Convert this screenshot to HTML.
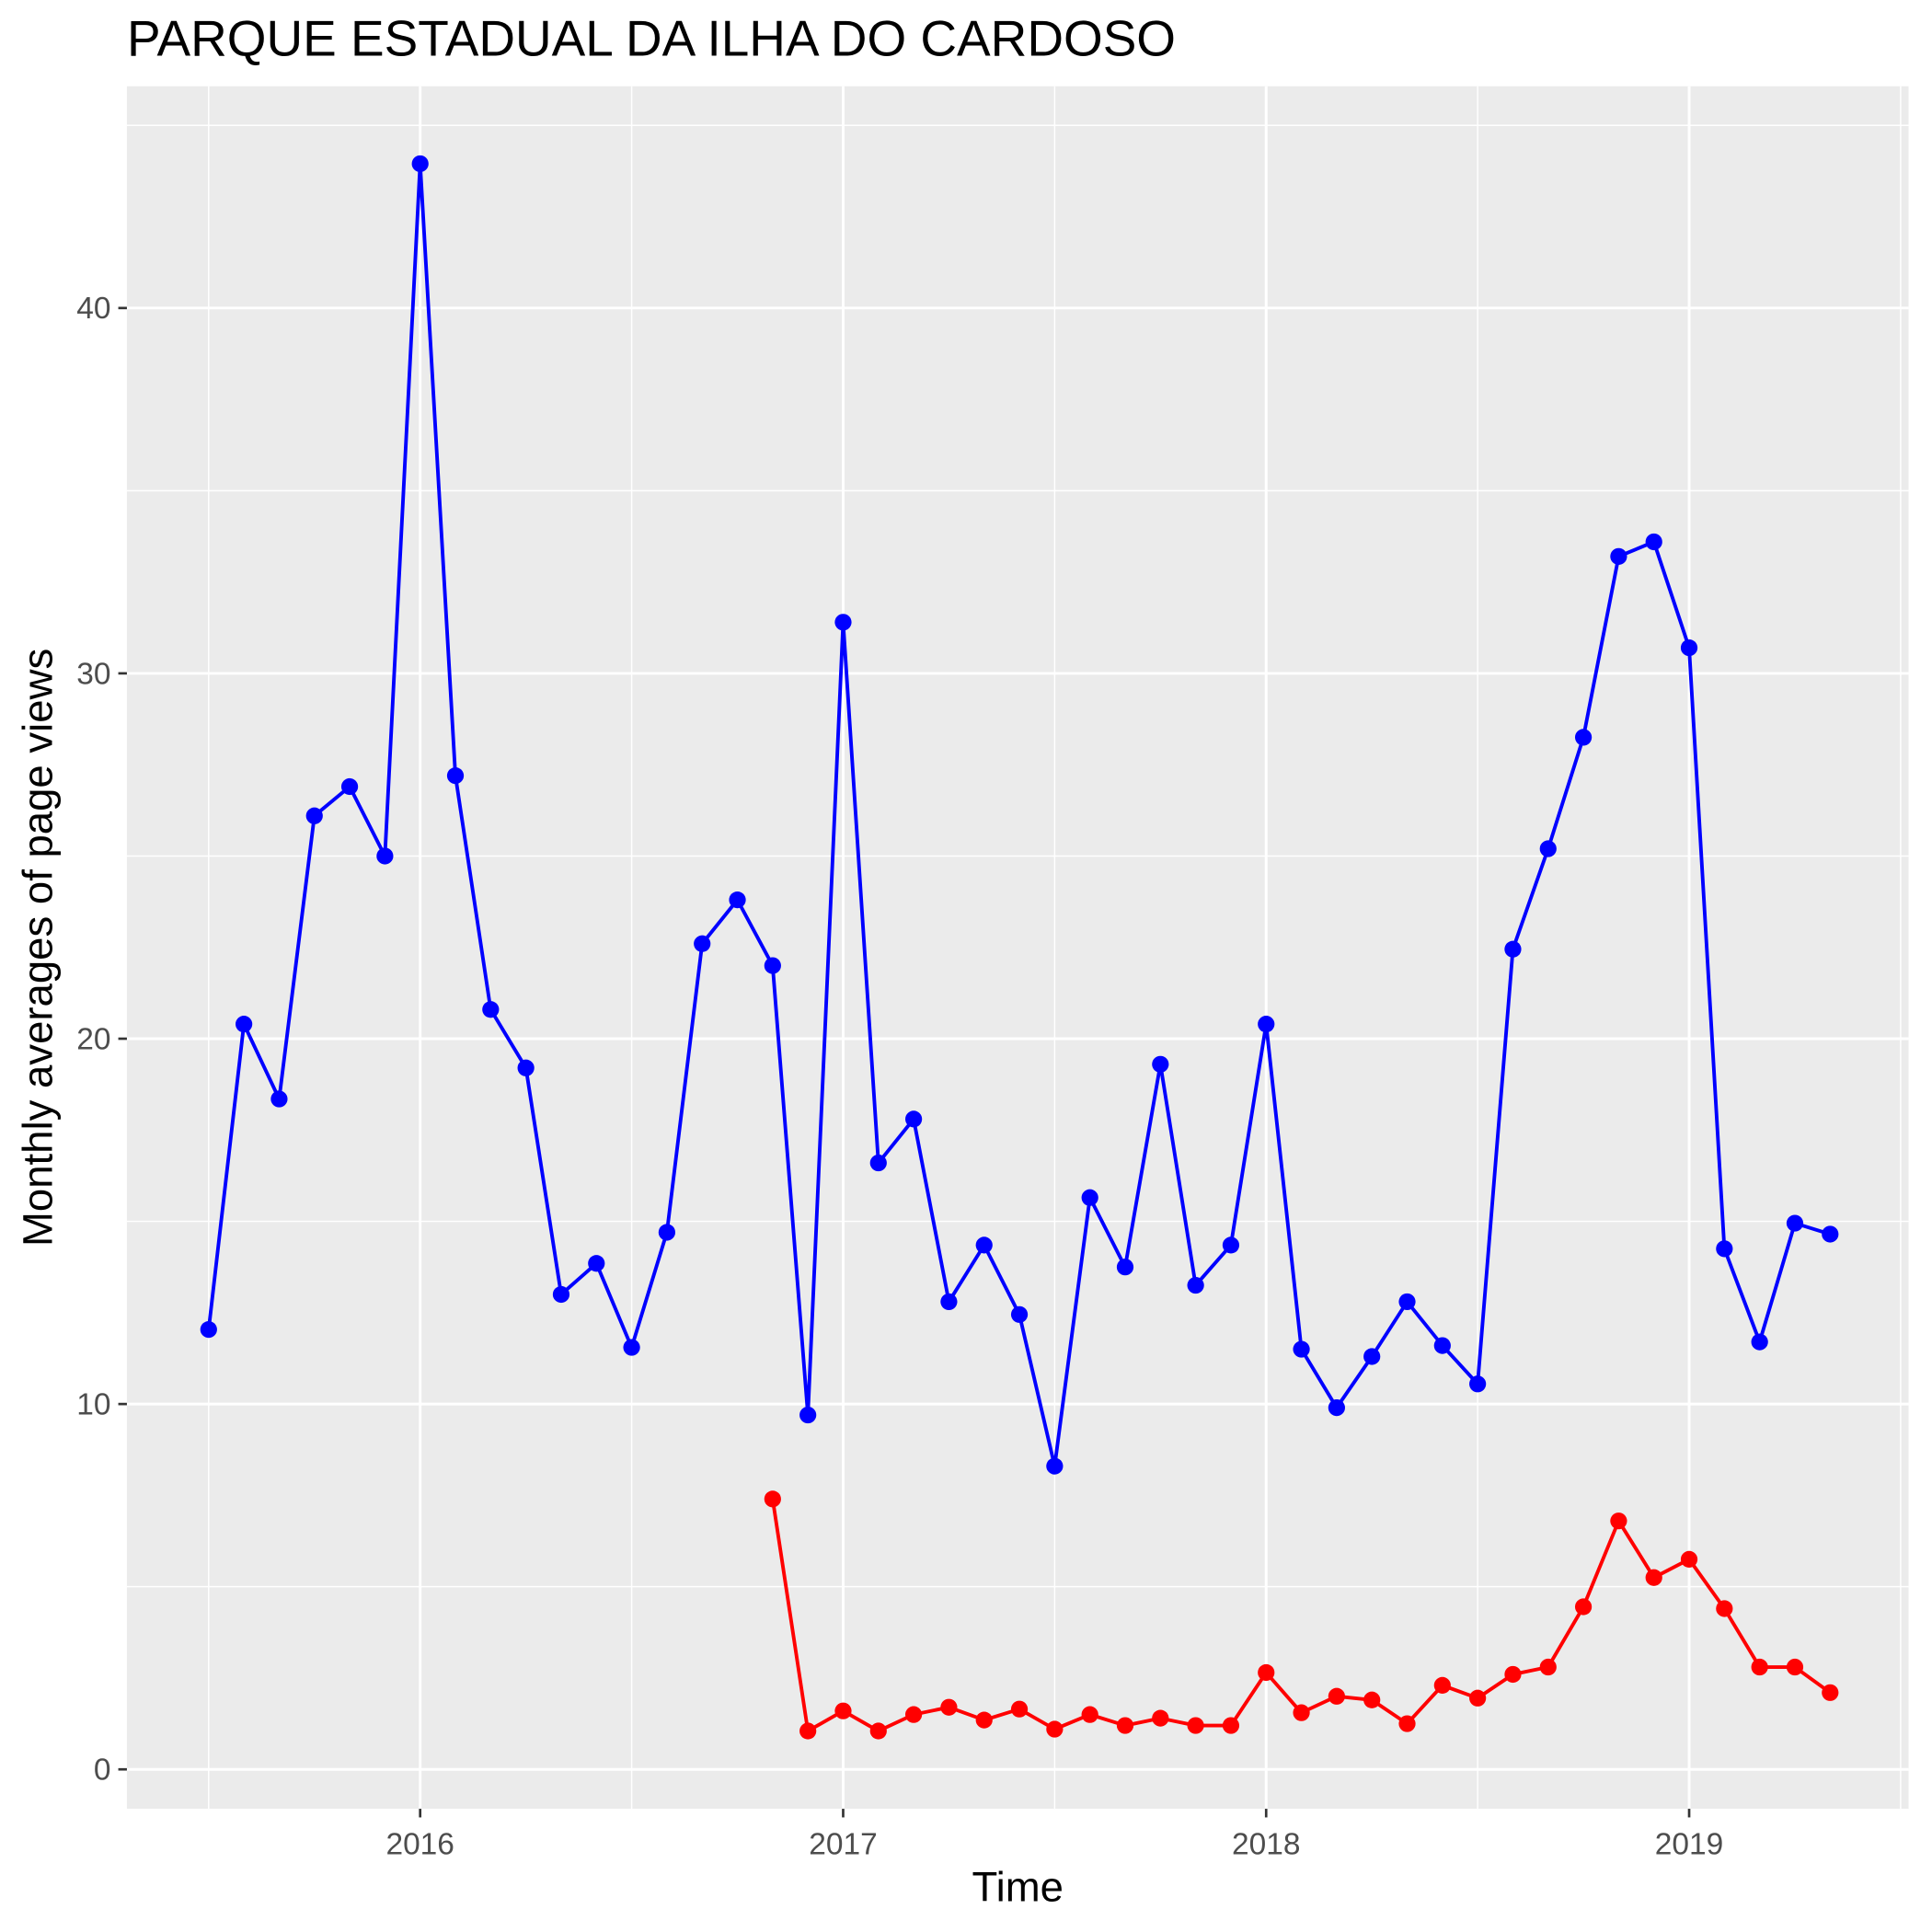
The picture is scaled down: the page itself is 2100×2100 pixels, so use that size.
<!DOCTYPE html>
<html><head><meta charset="utf-8"><style>
html,body{margin:0;padding:0;background:#fff;}
svg{display:block;font-family:"Liberation Sans",sans-serif;}
</style></head><body>
<svg id="chart" width="2100" height="2100" viewBox="0 0 1568 1568" xmlns="http://www.w3.org/2000/svg">
<rect width="1568" height="1568" fill="#fff"/>
<text x="103" y="45" font-size="41" fill="#000">PARQUE ESTADUAL DA ILHA DO CARDOSO</text>
<rect x="103" y="70" width="1446" height="1398" fill="#EBEBEB"/>
<g id="grid"></g>
<g id="series"></g>
<g id="axes"></g>
<text x="826" y="1543" font-size="34" text-anchor="middle" fill="#000">Time</text>
<text transform="translate(42,769) rotate(-90)" font-size="34" text-anchor="middle" fill="#000">Monthly averages of page views</text>
</svg>
<script>
const startYear = 2015, startMonth = 7;
const blueValues = [12.04,20.4,18.35,26.1,26.9,25.0,43.95,27.2,20.8,19.2,13.0,13.85,11.55,14.7,22.6,23.8,22.0,9.7,31.4,16.6,17.8,12.8,14.35,12.45,8.3,15.65,13.75,19.3,13.25,14.35,20.4,11.5,9.9,11.3,12.8,11.6,10.55,22.45,25.2,28.25,33.2,33.6,30.7,14.25,11.7,14.95,14.65];
const redStartIndex = 16;
const redValues = [7.4,1.05,1.6,1.05,1.5,1.7,1.35,1.65,1.1,1.5,1.2,1.4,1.2,1.2,2.65,1.55,2.0,1.9,1.25,2.3,1.95,2.6,2.8,4.45,6.8,5.25,5.75,4.4,2.8,2.8,2.1];
const yTicks = [0,10,20,30,40];
const yMinor = [5,15,25,35,45];
const xTicks = [2016,2017,2018,2019];
const xMinor = [2015.5,2016.5,2017.5,2018.5,2019.5];

const NS = "http://www.w3.org/2000/svg";
const X0 = 103, X1 = 1549, Y0 = 70, Y1 = 1468;
function xScale(t){ return 341 + (t - 2016) * 343.3; }
function yScale(v){ return 1436 - v * 29.65; }
function monthT(i){ const m = startMonth - 1 + i; return startYear + m / 12; }
function mk(tag, attrs, parent){ const e = document.createElementNS(NS, tag); for (const k in attrs) e.setAttribute(k, attrs[k]); parent.appendChild(e); return e; }

const grid = document.getElementById('grid');
const axes = document.getElementById('axes');
const series = document.getElementById('series');

yMinor.forEach(v => {
  const l = mk('line', {x1:X0, x2:X1, y1:yScale(v), y2:yScale(v), stroke:'#fff', 'stroke-width':1.1}, grid);
  
  
});
xMinor.forEach(t => {
  const l = mk('line', {x1:xScale(t), x2:xScale(t), y1:Y0, y2:Y1, stroke:'#fff', 'stroke-width':1.1}, grid);
  
  
});
yTicks.forEach(v => {
  const y = yScale(v);
  const l = mk('line', {x1:X0, x2:X1, y1:y, y2:y, stroke:'#fff', 'stroke-width':2.2}, grid);
  
  
  const tk = mk('line', {x1:X0-7, x2:X0, y1:y, y2:y, stroke:'#333', 'stroke-width':2}, axes);
  
  
  const tx = mk('text', {x:X0-13, y:y+8.5, 'font-size':25, 'text-anchor':'end', fill:'#4D4D4D'}, axes);
  tx.textContent = v;
  
  
});
xTicks.forEach(t => {
  const x = xScale(t);
  const l = mk('line', {x1:x, x2:x, y1:Y0, y2:Y1, stroke:'#fff', 'stroke-width':2.2}, grid);
  
  
  const tk = mk('line', {x1:x, x2:x, y1:Y1, y2:Y1+7, stroke:'#333', 'stroke-width':2}, axes);
  
  
  const tx = mk('text', {x:x, y:Y1+37, 'font-size':25, 'text-anchor':'middle', fill:'#4D4D4D'}, axes);
  tx.textContent = t;
  
  
});

function drawSeries(vals, offset, color, name){
  const pts = vals.map((v, i) => [xScale(monthT(i + offset)), yScale(v)]);
  const pl = mk('polyline', {points: pts.map(p => p.join(',')).join(' '), fill:'none', stroke:color, 'stroke-width':2.9, 'stroke-linejoin':'round'}, series);
  
  
  pts.forEach(p => {
    const c = mk('circle', {cx:p[0], cy:p[1], r:6.8, fill:color}, series);
    
    
  });
}
drawSeries(blueValues, 0, '#0000FF', 'blue-series');
drawSeries(redValues, redStartIndex, '#FF0000', 'red-series');
</script>
</body></html>
